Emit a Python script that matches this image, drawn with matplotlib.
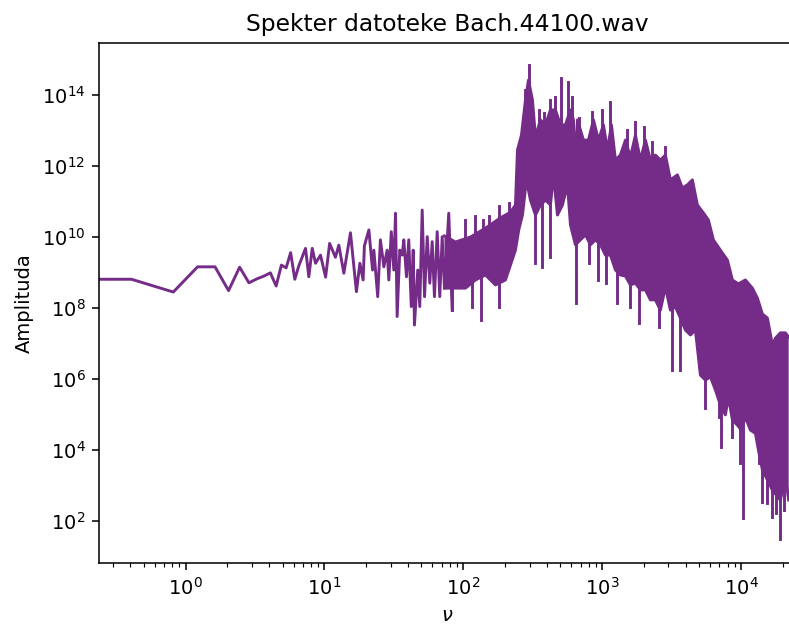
"""
plot.py  —  Amplitude spectrum of Bach.44100.wav (log-log).

Values read off the reference picture: frequencies in Hz, amplitudes as
log10 exponents (that is what a log axis gives you directly).
"""

import numpy as np
import matplotlib
matplotlib.use('Agg')
import matplotlib.pyplot as plt

# --- Low-frequency part: single line, individual FFT bins ---
line_freq = [0.0, 0.408, 0.816, 1.22, 1.63, 2.04, 2.45, 2.86, 3.26, 3.67,
             4.08, 4.49, 4.90, 5.30, 5.71, 6.12, 6.53,
             7.31, 7.72, 8.17, 8.63, 9.37, 10.2, 10.9, 12.0, 12.7, 13.8,
             15.4, 17.0, 18.0, 19.0, 19.4, 20.9, 22.2, 22.7, 24.2, 25.3,
             26.8, 28.3, 29.1, 30.3, 31.6, 32.5, 33.4, 34.9, 36.3, 37.3,
             39.0, 40.5, 42.2, 43.6, 44.5, 47.0, 48.6, 50.6, 52.6, 55.0,
             57.4, 59.7, 62.0, 64.9, 67.7, 70.5, 73.2, 78.6, 83.2]
line_log_amp = [8.81, 8.81, 8.45, 9.16, 9.16, 8.49, 9.15, 8.71, 8.82, 8.90,
                8.99, 8.62, 9.21, 9.13, 9.56, 8.81, 9.18,
                9.68, 8.88, 9.68, 9.26, 9.49, 8.87, 9.82, 9.43, 9.77, 8.98,
                10.12, 8.46, 9.26, 8.79, 9.75, 10.20, 9.07, 9.63, 8.32, 9.92,
                9.16, 9.63, 8.79, 10.15, 9.07, 10.67, 7.76, 9.63, 9.49, 9.92,
                8.88, 9.92, 8.04, 9.63, 7.52, 9.07, 8.04, 10.76, 8.32, 10.01,
                8.70, 9.87, 8.32, 10.15, 8.32, 10.01, 8.56, 10.67, 7.94]

# --- Dense part: solid body, upper edge ---
top_freq = [73.2, 87.9, 112.7, 144.5, 185.3, 218.7, 237.5, 245.6, 262.4,
            280.4, 294.7, 314.9, 331.1, 359.6, 390.7, 424.5, 461.1, 501.0,
            544.3, 591.3, 621.5, 642.4, 664.0, 733.6, 796.9, 865.9, 940.6,
            1022, 1092, 1167, 1247, 1354, 1472, 1598, 1737, 1887, 2050,
            2227, 2419, 2629, 2856, 3102, 3484, 3786, 4113, 4468, 4855,
            5362, 5826, 6329, 7108, 7983, 8673, 9579, 10760, 12080, 13130,
            14260, 15490, 16830, 17690, 19220, 20880, 22050]
top_log_amp = [10.03, 9.86, 10.00, 10.25, 10.54, 10.70, 10.90, 12.45, 12.87,
               13.86, 14.42, 13.86, 12.82, 13.30, 13.16, 13.58, 13.58, 13.16,
               13.16, 13.58, 13.30, 11.89, 13.30, 12.73, 12.73, 13.30, 12.73,
               13.16, 12.45, 13.16, 12.17, 12.31, 12.73, 12.25, 12.87, 12.17, 12.73,
               12.17, 12.31, 12.17, 12.31, 11.61, 11.75, 11.38, 11.47, 11.61, 10.90,
               10.68, 10.48, 9.92, 9.63, 9.35, 8.79, 8.68, 8.79, 8.56, 8.28,
               7.83, 7.72, 6.96, 7.15, 7.30, 7.30, 7.18]

# --- Dense part: solid body, lower edge ---
bot_freq = [73.2, 87.9, 103.7, 122.4, 144.5, 170.5, 201.3, 218.7, 237.5,
            250.9, 266.9, 285.1, 304.6, 331.1, 359.6, 390.7, 424.5, 446.1,
            476.7, 517.9, 562.6, 591.3, 642.4, 698.0, 758.3, 823.8, 895.0,
            972.3, 1056, 1148, 1247, 1354, 1472, 1598, 1737, 1887, 2050,
            2227, 2419, 2629, 2856, 3102, 3372, 3662, 3979, 4323, 4696,
            5102, 5543, 6022, 6543, 7108, 7721, 8116, 8673, 9422, 10070,
            10760, 11690, 12700, 13350, 14260, 15490, 16830, 17980, 19220,
            20880, 22050]
bot_log_amp = [8.56, 8.56, 8.56, 8.79, 8.93, 8.65, 8.79, 9.21, 9.63,
               10.20, 10.62, 11.61, 11.04, 10.62, 10.90, 11.04, 10.90, 11.75,
               10.62, 10.90, 11.47, 10.34, 9.78, 9.92, 10.06, 9.78, 9.92,
               9.78, 9.49, 9.49, 9.07, 8.93, 8.90, 8.65, 8.70, 8.51, 8.51,
               8.23, 8.23, 7.94, 8.59, 7.94, 8.03, 7.72, 7.38, 7.24, 7.38,
               6.11, 5.97, 6.06, 5.69, 5.27, 4.99, 5.49, 4.85, 4.70, 4.56,
               4.93, 4.56, 4.47, 4.00, 3.44, 3.16, 2.87, 2.73, 2.59,
               3.24, 2.59]

# --- Narrow spikes sticking out of the body (upper end, lower end) ---
spike_freq = [103.7, 122.4, 139.8, 152.6, 180.1, 212.6, 277.3, 296.2, 349.7,
              379.8, 424.5, 461.1, 506.8, 565.4, 608.1, 686.5, 847.2, 1000,
              1138, 1514, 1714, 2010, 2291, 2856,
              83.2, 115.9, 135.2, 180.1, 331.1, 369.8, 424.5, 649.9, 810.4,
              935.8, 1069, 1282, 1598, 1850, 2556, 3192, 3662, 5543, 6912,
              7225, 8629, 9901, 10320, 13410, 14190, 15420, 16700, 17980,
              19060, 20300]
spike_hi = [10.48, 10.59, 10.48, 10.59, 10.87, 10.96, 14.14, 14.85, 13.58,
            13.49, 13.86, 13.94, 14.48, 14.37, 13.94, 13.35, 13.52, 13.58,
            13.80, 13.01, 13.24, 13.10, 12.68, 12.54,
            9.2, 9.3, 9.3, 9.5, 11.5, 11.5, 11.5, 10.5, 10.5,
            10.5, 10.5, 10.0, 10.0, 10.0, 9.5, 9.0, 9.0, 8.0, 7.5,
            7.5, 7.0, 6.5, 6.5, 5.5, 5.5, 5.0, 5.0, 5.0,
            5.0, 5.0]
spike_lo = [9.5, 9.6, 9.6, 9.7, 9.8, 9.9, 12.0, 13.0, 12.0,
            12.0, 12.0, 12.0, 12.0, 12.0, 12.0, 11.5, 11.5, 11.5,
            11.5, 11.0, 11.0, 11.0, 11.0, 10.5,
            7.94, 8.03, 7.66, 8.03, 9.27, 9.16, 9.44, 8.14, 9.27,
            8.79, 8.70, 8.14, 8.03, 7.58, 7.47, 6.25, 6.25, 5.18, 4.93,
            4.08, 4.37, 3.63, 2.08, 3.63, 2.54, 2.51, 2.11, 2.23,
            1.49, 2.31]

COLOR = '#752c88'


def main():
    dpi = 140
    fig = plt.figure(figsize=(789 / dpi, 631 / dpi), dpi=dpi)
    ax = fig.add_axes([99 / 789, 68 / 631, 697 / 789, 520 / 631])

    lf, la = np.array(line_freq), 10 ** np.array(line_log_amp)
    tf, ta = np.array(top_freq), 10 ** np.array(top_log_amp)
    bf, ba = np.array(bot_freq), 10 ** np.array(bot_log_amp)

    ax.set_xscale('log')
    ax.set_yscale('log')

    # dense band: polygon between the two edges, then the edges as lines
    ax.fill(np.concatenate([tf, bf[::-1]]), np.concatenate([ta, ba[::-1]]),
            color=COLOR, lw=0)
    ax.plot(tf, ta, color=COLOR, lw=1.5)
    ax.plot(bf, ba, color=COLOR, lw=1.5)
    ax.vlines(spike_freq, 10 ** np.array(spike_lo), 10 ** np.array(spike_hi),
              color=COLOR, lw=1.5, capstyle='projecting')
    ax.plot(lf, la, color=COLOR, lw=1.5)

    ax.set_xlim(0.238, 24900)
    ax.set_ylim(6.56, 2.92e15)
    ax.yaxis.set_minor_locator(matplotlib.ticker.NullLocator())

    ax.set_title('Spekter datoteke Bach.44100.wav')
    ax.set_xlabel(r'$\nu$')
    ax.set_ylabel('Amplituda')

    fig.savefig('out.png', dpi=dpi)


if __name__ == '__main__':
    main()
